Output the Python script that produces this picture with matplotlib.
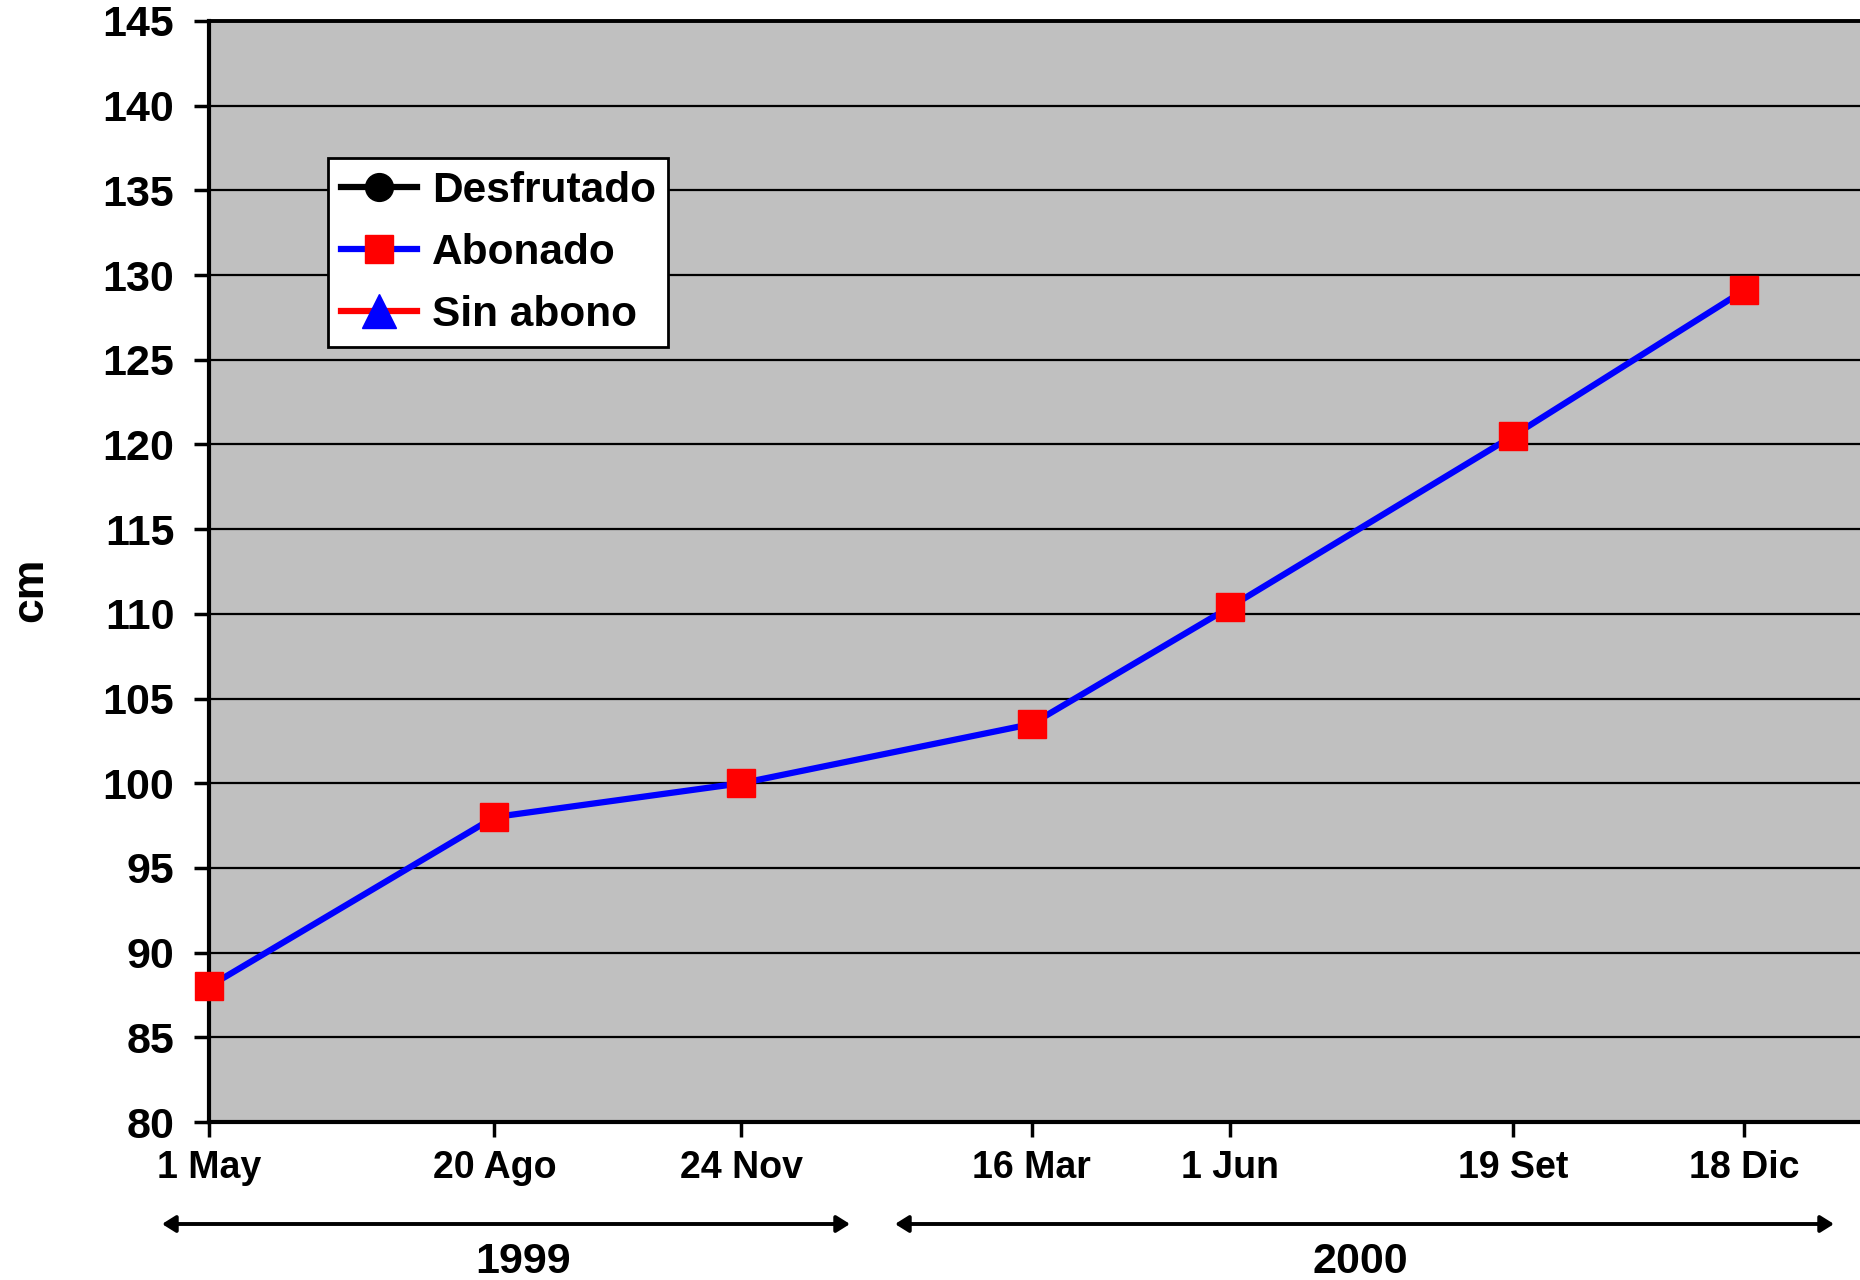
import matplotlib
matplotlib.use("Agg")
import matplotlib.pyplot as plt
from matplotlib.lines import Line2D
from matplotlib.patches import FancyArrowPatch
import datetime as dt

plt.rcParams['font.family'] = ['Liberation Sans', 'DejaVu Sans']
plt.rcParams['font.weight'] = 'bold'

# ---- data ----
dates = ["1999-05-01", "1999-08-20", "1999-11-24", "2000-03-16",
         "2000-06-01", "2000-09-19", "2000-12-18"]
tick_labels = ["1 May", "20 Ago", "24 Nov", "16 Mar", "1 Jun", "19 Set", "18 Dic"]
abonado = [88.0, 98.0, 100.0, 103.5, 110.4, 120.5, 129.1]
series_names = ["Desfrutado", "Abonado", "Sin abono"]
years = ["1999", "2000"]
y_ticks = list(range(80, 146, 5))

x = [dt.datetime.strptime(d, "%Y-%m-%d") for d in dates]

fig = plt.figure(figsize=(18.6, 12.8), dpi=100)
ax = fig.add_axes([209/1860, 1 - 1122/1280, 1 - 209/1860, (1122 - 21)/1280])
ax.set_facecolor('#C0C0C0')

ax.plot(x, abonado, color='#0000FF', lw=4.5, marker='s', markersize=20,
        markerfacecolor='#FF0000', markeredgecolor='#FF0000', clip_on=False, zorder=5)

ax.set_ylim(80, 145)
ax.set_yticks(y_ticks)
ax.set_xlim(x[0], x[-1] + dt.timedelta(days=45))
ax.set_xticks(x)
ax.set_xticklabels(tick_labels)

ax.grid(axis='y', color='black', lw=1.6)
ax.set_axisbelow(True)
for s in ['left', 'bottom']:
    ax.spines[s].set_linewidth(3)
ax.spines['top'].set_linewidth(2.8)
ax.spines['right'].set_visible(False)
ax.tick_params(axis='y', direction='out', length=11, width=2.5, pad=14, labelsize=31)
ax.tick_params(axis='x', direction='out', length=11, width=2.5, pad=9, labelsize=27)
for lab in ax.get_xticklabels() + ax.get_yticklabels():
    lab.set_fontweight('bold')

fig.text(31/1860, 1 - 590/1280, "cm", rotation=90, ha='center', va='center',
         fontsize=32, fontweight='bold')

# legend
handles = [
    Line2D([], [], color='black', lw=4.5, marker='o', markersize=20,
           markerfacecolor='black', markeredgecolor='black'),
    Line2D([], [], color='#0000FF', lw=4.5, marker='s', markersize=20,
           markerfacecolor='#FF0000', markeredgecolor='#FF0000'),
    Line2D([], [], color='#FF0000', lw=4.5, marker='^', markersize=24,
           markerfacecolor='#0000FF', markeredgecolor='#0000FF'),
]
leg = ax.legend(handles, series_names, loc='upper left',
                bbox_to_anchor=((328 - 209)/1651, (1122 - 158)/1101),
                borderaxespad=0, fancybox=False, framealpha=1,
                edgecolor='black', facecolor='white',
                prop={'size': 30.5, 'weight': 'bold'},
                handlelength=1.8, handletextpad=0.35, borderpad=0.3,
                labelspacing=0.52)
leg.get_frame().set_linewidth(2)

# year arrows
arrow_y = 1 - 1224/1280
for (x0, x1, xc, label) in [(162, 850, 523, years[0]), (895, 1834, 1360, years[1])]:
    fig.add_artist(FancyArrowPatch(
        (x0/1860, arrow_y), (x1/1860, arrow_y), transform=fig.transFigure,
        arrowstyle='<|-|>,head_length=8,head_width=5', lw=2.8, color='black',
        shrinkA=0, shrinkB=0))
    fig.text(xc/1860, 1 - 1262/1280, label, ha='center', va='center',
             fontsize=31, fontweight='bold')

fig.savefig("out.png", dpi=100)
